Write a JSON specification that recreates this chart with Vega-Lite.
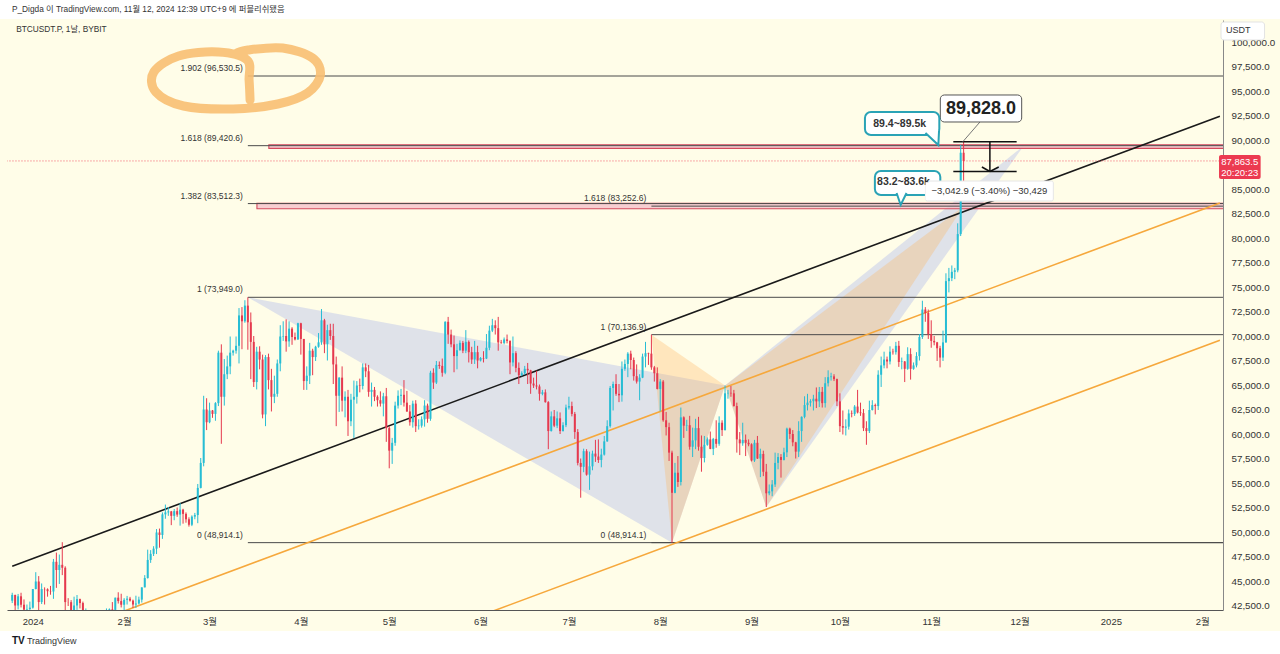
{
"$schema":"https://vega.github.io/schema/vega-lite/v6.json",
"width":1216,"height":590,
"autosize":{"type":"none"},
"padding":{"left":7,"top":20,"right":57,"bottom":44},
"background":"#fffde8",
"config":{"view":{"stroke":null},"font":"Liberation Sans, Noto Sans CJK KR, sans-serif",
 "axisY":{"ticks":false,"grid":false,"domainColor":"#888888","labelColor":"#333333","labelFontSize":9.8,"labelPadding":8,"title":null,"labelOverlap":false,"labelFlush":false}},
"data":{"values":[
{"d":"2023-12-25","o":42990,"h":43800,"l":42750,"c":43580},
{"d":"2023-12-26","o":43580,"h":43600,"l":41650,"c":42500},
{"d":"2023-12-27","o":42500,"h":43680,"l":42100,"c":43440},
{"d":"2023-12-28","o":43440,"h":43800,"l":42300,"c":42580},
{"d":"2023-12-29","o":42580,"h":43120,"l":41300,"c":42080},
{"d":"2023-12-30","o":42080,"h":42600,"l":41520,"c":42140},
{"d":"2023-12-31","o":42140,"h":42900,"l":41980,"c":42280},
{"d":"2024-01-01","o":42280,"h":44180,"l":42180,"c":44180},
{"d":"2024-01-02","o":44180,"h":45900,"l":44150,"c":44950},
{"d":"2024-01-03","o":44950,"h":45500,"l":40750,"c":42850},
{"d":"2024-01-04","o":42850,"h":44750,"l":42650,"c":44180},
{"d":"2024-01-05","o":44180,"h":44350,"l":42600,"c":44160},
{"d":"2024-01-06","o":44160,"h":44250,"l":43400,"c":43960},
{"d":"2024-01-07","o":43960,"h":44500,"l":43600,"c":43930},
{"d":"2024-01-08","o":43930,"h":47250,"l":43180,"c":46960},
{"d":"2024-01-09","o":46960,"h":47900,"l":44300,"c":46120},
{"d":"2024-01-10","o":46120,"h":47700,"l":44700,"c":46650},
{"d":"2024-01-11","o":46650,"h":48960,"l":45600,"c":46350},
{"d":"2024-01-12","o":46350,"h":46500,"l":41500,"c":42850},
{"d":"2024-01-13","o":42850,"h":43250,"l":42450,"c":42840},
{"d":"2024-01-14","o":42840,"h":43050,"l":41720,"c":41750},
{"d":"2024-01-15","o":41750,"h":43400,"l":41700,"c":42500},
{"d":"2024-01-16","o":42500,"h":43570,"l":42050,"c":43150},
{"d":"2024-01-17","o":43150,"h":43200,"l":42200,"c":42750},
{"d":"2024-01-18","o":42750,"h":42900,"l":40600,"c":41300},
{"d":"2024-01-19","o":41300,"h":42200,"l":40300,"c":41620},
{"d":"2024-01-20","o":41620,"h":41850,"l":41450,"c":41680},
{"d":"2024-01-21","o":41680,"h":41900,"l":41480,"c":41580},
{"d":"2024-01-22","o":41580,"h":41700,"l":39430,"c":39550},
{"d":"2024-01-23","o":39550,"h":40500,"l":38550,"c":39900},
{"d":"2024-01-24","o":39900,"h":40550,"l":39500,"c":40100},
{"d":"2024-01-25","o":40100,"h":40280,"l":39550,"c":39950},
{"d":"2024-01-26","o":39950,"h":42200,"l":39830,"c":41850},
{"d":"2024-01-27","o":41850,"h":42200,"l":41400,"c":42120},
{"d":"2024-01-28","o":42120,"h":42850,"l":41650,"c":42050},
{"d":"2024-01-29","o":42050,"h":43300,"l":41800,"c":43300},
{"d":"2024-01-30","o":43300,"h":43850,"l":42700,"c":42950},
{"d":"2024-01-31","o":42950,"h":43700,"l":42300,"c":42580},
{"d":"2024-02-01","o":42580,"h":43250,"l":41880,"c":43080},
{"d":"2024-02-02","o":43080,"h":43480,"l":42600,"c":43200},
{"d":"2024-02-03","o":43200,"h":43380,"l":42900,"c":43000},
{"d":"2024-02-04","o":43000,"h":43100,"l":42250,"c":42600},
{"d":"2024-02-05","o":42600,"h":43500,"l":42250,"c":42700},
{"d":"2024-02-06","o":42700,"h":43400,"l":42600,"c":43100},
{"d":"2024-02-07","o":43100,"h":44350,"l":42800,"c":44350},
{"d":"2024-02-08","o":44350,"h":45600,"l":44350,"c":45300},
{"d":"2024-02-09","o":45300,"h":48200,"l":45250,"c":47150},
{"d":"2024-02-10","o":47150,"h":48150,"l":46850,"c":47770},
{"d":"2024-02-11","o":47770,"h":48550,"l":47550,"c":48300},
{"d":"2024-02-12","o":48300,"h":50300,"l":47750,"c":49950},
{"d":"2024-02-13","o":49950,"h":50350,"l":48400,"c":49700},
{"d":"2024-02-14","o":49700,"h":52000,"l":49300,"c":51800},
{"d":"2024-02-15","o":51800,"h":52800,"l":51350,"c":52000},
{"d":"2024-02-16","o":52000,"h":52550,"l":51650,"c":52100},
{"d":"2024-02-17","o":52100,"h":52150,"l":50700,"c":51650},
{"d":"2024-02-18","o":51650,"h":52350,"l":51200,"c":52130},
{"d":"2024-02-19","o":52130,"h":52500,"l":51550,"c":51780},
{"d":"2024-02-20","o":51780,"h":52950,"l":50650,"c":52280},
{"d":"2024-02-21","o":52280,"h":52370,"l":50850,"c":51850},
{"d":"2024-02-22","o":51850,"h":52000,"l":50950,"c":51300},
{"d":"2024-02-23","o":51300,"h":51500,"l":50550,"c":50740},
{"d":"2024-02-24","o":50740,"h":51700,"l":50600,"c":51570},
{"d":"2024-02-25","o":51570,"h":51950,"l":51300,"c":51730},
{"d":"2024-02-26","o":51730,"h":54900,"l":50900,"c":54500},
{"d":"2024-02-27","o":54500,"h":57550,"l":54450,"c":57050},
{"d":"2024-02-28","o":57050,"h":63900,"l":56700,"c":62500},
{"d":"2024-02-29","o":62500,"h":63650,"l":60400,"c":61200},
{"d":"2024-03-01","o":61200,"h":63200,"l":61100,"c":62400},
{"d":"2024-03-02","o":62400,"h":62450,"l":61650,"c":62050},
{"d":"2024-03-03","o":62050,"h":63250,"l":61350,"c":63150},
{"d":"2024-03-04","o":63150,"h":68500,"l":62850,"c":68300},
{"d":"2024-03-05","o":68300,"h":69150,"l":59000,"c":63800},
{"d":"2024-03-06","o":63800,"h":67650,"l":62900,"c":66100},
{"d":"2024-03-07","o":66100,"h":68000,"l":65600,"c":66900},
{"d":"2024-03-08","o":66900,"h":69950,"l":66100,"c":68300},
{"d":"2024-03-09","o":68300,"h":68600,"l":68000,"c":68500},
{"d":"2024-03-10","o":68500,"h":69950,"l":68200,"c":69000},
{"d":"2024-03-11","o":69000,"h":72850,"l":67200,"c":72100},
{"d":"2024-03-12","o":72100,"h":72950,"l":68650,"c":71500},
{"d":"2024-03-13","o":71500,"h":73650,"l":71350,"c":73100},
{"d":"2024-03-14","o":73100,"h":73949,"l":68600,"c":71400},
{"d":"2024-03-15","o":71400,"h":72400,"l":65600,"c":69400},
{"d":"2024-03-16","o":69400,"h":70000,"l":64800,"c":65300},
{"d":"2024-03-17","o":65300,"h":68900,"l":64550,"c":68400},
{"d":"2024-03-18","o":68400,"h":68950,"l":66600,"c":67600},
{"d":"2024-03-19","o":67600,"h":68100,"l":61600,"c":62000},
{"d":"2024-03-20","o":62000,"h":68050,"l":60800,"c":67850},
{"d":"2024-03-21","o":67850,"h":68200,"l":64550,"c":65500},
{"d":"2024-03-22","o":65500,"h":66650,"l":62300,"c":63800},
{"d":"2024-03-23","o":63800,"h":65950,"l":63150,"c":64100},
{"d":"2024-03-24","o":64100,"h":67600,"l":63800,"c":67200},
{"d":"2024-03-25","o":67200,"h":71100,"l":66400,"c":69950},
{"d":"2024-03-26","o":69950,"h":71500,"l":69500,"c":70000},
{"d":"2024-03-27","o":70000,"h":71700,"l":68400,"c":69450},
{"d":"2024-03-28","o":69450,"h":71500,"l":68900,"c":70750},
{"d":"2024-03-29","o":70750,"h":70900,"l":69100,"c":69900},
{"d":"2024-03-30","o":69900,"h":70350,"l":69550,"c":69650},
{"d":"2024-03-31","o":69650,"h":71350,"l":69600,"c":71300},
{"d":"2024-04-01","o":71300,"h":71350,"l":68100,"c":69700},
{"d":"2024-04-02","o":69700,"h":69700,"l":64500,"c":65400},
{"d":"2024-04-03","o":65400,"h":66900,"l":64500,"c":65950},
{"d":"2024-04-04","o":65950,"h":69300,"l":65100,"c":68500},
{"d":"2024-04-05","o":68500,"h":68700,"l":66000,"c":67850},
{"d":"2024-04-06","o":67850,"h":69000,"l":67450,"c":68900},
{"d":"2024-04-07","o":68900,"h":70300,"l":68800,"c":69350},
{"d":"2024-04-08","o":69350,"h":72750,"l":69100,"c":71600},
{"d":"2024-04-09","o":71600,"h":71750,"l":68250,"c":69150},
{"d":"2024-04-10","o":69150,"h":71150,"l":67500,"c":70600},
{"d":"2024-04-11","o":70600,"h":71250,"l":69600,"c":70000},
{"d":"2024-04-12","o":70000,"h":71250,"l":65100,"c":67100},
{"d":"2024-04-13","o":67100,"h":67900,"l":60800,"c":63900},
{"d":"2024-04-14","o":63900,"h":65800,"l":62250,"c":65750},
{"d":"2024-04-15","o":65750,"h":66900,"l":62300,"c":63400},
{"d":"2024-04-16","o":63400,"h":64350,"l":61700,"c":63800},
{"d":"2024-04-17","o":63800,"h":64500,"l":59800,"c":61300},
{"d":"2024-04-18","o":61300,"h":64100,"l":60800,"c":63500},
{"d":"2024-04-19","o":63500,"h":65450,"l":59600,"c":63800},
{"d":"2024-04-20","o":63800,"h":65400,"l":63100,"c":64950},
{"d":"2024-04-21","o":64950,"h":65650,"l":64250,"c":64900},
{"d":"2024-04-22","o":64900,"h":67200,"l":64550,"c":66800},
{"d":"2024-04-23","o":66800,"h":67200,"l":65800,"c":66400},
{"d":"2024-04-24","o":66400,"h":67050,"l":63800,"c":64300},
{"d":"2024-04-25","o":64300,"h":65250,"l":62800,"c":64500},
{"d":"2024-04-26","o":64500,"h":64800,"l":63350,"c":63800},
{"d":"2024-04-27","o":63800,"h":63950,"l":62800,"c":63450},
{"d":"2024-04-28","o":63450,"h":64350,"l":62800,"c":63100},
{"d":"2024-04-29","o":63100,"h":64200,"l":61800,"c":63850},
{"d":"2024-04-30","o":63850,"h":64700,"l":59200,"c":60600},
{"d":"2024-05-01","o":60600,"h":60800,"l":56500,"c":58300},
{"d":"2024-05-02","o":58300,"h":59600,"l":56950,"c":59100},
{"d":"2024-05-03","o":59100,"h":63300,"l":58800,"c":62900},
{"d":"2024-05-04","o":62900,"h":64450,"l":62600,"c":63900},
{"d":"2024-05-05","o":63900,"h":64600,"l":62950,"c":64000},
{"d":"2024-05-06","o":64000,"h":65500,"l":62800,"c":63200},
{"d":"2024-05-07","o":63200,"h":64400,"l":62250,"c":62300},
{"d":"2024-05-08","o":62300,"h":62950,"l":60850,"c":61200},
{"d":"2024-05-09","o":61200,"h":63400,"l":60650,"c":63100},
{"d":"2024-05-10","o":63100,"h":63450,"l":60200,"c":60800},
{"d":"2024-05-11","o":60800,"h":61500,"l":60450,"c":60850},
{"d":"2024-05-12","o":60850,"h":61800,"l":60650,"c":61500},
{"d":"2024-05-13","o":61500,"h":63450,"l":60750,"c":62900},
{"d":"2024-05-14","o":62900,"h":63100,"l":61150,"c":61550},
{"d":"2024-05-15","o":61550,"h":66450,"l":61350,"c":66250},
{"d":"2024-05-16","o":66250,"h":66700,"l":64600,"c":65250},
{"d":"2024-05-17","o":65250,"h":67450,"l":65100,"c":67050},
{"d":"2024-05-18","o":67050,"h":67400,"l":66650,"c":66950},
{"d":"2024-05-19","o":66950,"h":67700,"l":65850,"c":66250},
{"d":"2024-05-20","o":66250,"h":71500,"l":66100,"c":71450},
{"d":"2024-05-21","o":71450,"h":71950,"l":69200,"c":70150},
{"d":"2024-05-22","o":70150,"h":70650,"l":68850,"c":69150},
{"d":"2024-05-23","o":69150,"h":70050,"l":66300,"c":67950},
{"d":"2024-05-24","o":67950,"h":69200,"l":66600,"c":68550},
{"d":"2024-05-25","o":68550,"h":69550,"l":68500,"c":69300},
{"d":"2024-05-26","o":69300,"h":69500,"l":68250,"c":68500},
{"d":"2024-05-27","o":68500,"h":70600,"l":68250,"c":69400},
{"d":"2024-05-28","o":69400,"h":69550,"l":67300,"c":68350},
{"d":"2024-05-29","o":68350,"h":68900,"l":67150,"c":67600},
{"d":"2024-05-30","o":67600,"h":69500,"l":67150,"c":68350},
{"d":"2024-05-31","o":68350,"h":69000,"l":66700,"c":67500},
{"d":"2024-06-01","o":67500,"h":67850,"l":67400,"c":67750},
{"d":"2024-06-02","o":67750,"h":68450,"l":67300,"c":67700},
{"d":"2024-06-03","o":67700,"h":70200,"l":67650,"c":68800},
{"d":"2024-06-04","o":68800,"h":71050,"l":68550,"c":70550},
{"d":"2024-06-05","o":70550,"h":71750,"l":70400,"c":71100},
{"d":"2024-06-06","o":71100,"h":71600,"l":70150,"c":70800},
{"d":"2024-06-07","o":70800,"h":71950,"l":68500,"c":69350},
{"d":"2024-06-08","o":69350,"h":69600,"l":69200,"c":69300},
{"d":"2024-06-09","o":69300,"h":69850,"l":69150,"c":69650},
{"d":"2024-06-10","o":69650,"h":70150,"l":69250,"c":69500},
{"d":"2024-06-11","o":69500,"h":69550,"l":66100,"c":67300},
{"d":"2024-06-12","o":67300,"h":69950,"l":66900,"c":68250},
{"d":"2024-06-13","o":68250,"h":68450,"l":66300,"c":66750},
{"d":"2024-06-14","o":66750,"h":67300,"l":65100,"c":66000},
{"d":"2024-06-15","o":66000,"h":66400,"l":65900,"c":66200},
{"d":"2024-06-16","o":66200,"h":66950,"l":66050,"c":66650},
{"d":"2024-06-17","o":66650,"h":67250,"l":65100,"c":66500},
{"d":"2024-06-18","o":66500,"h":66550,"l":64100,"c":65150},
{"d":"2024-06-19","o":65150,"h":65750,"l":64700,"c":64950},
{"d":"2024-06-20","o":64950,"h":66450,"l":64550,"c":64850},
{"d":"2024-06-21","o":64850,"h":65050,"l":63400,"c":64100},
{"d":"2024-06-22","o":64100,"h":64500,"l":63950,"c":64250},
{"d":"2024-06-23","o":64250,"h":64550,"l":63200,"c":63250},
{"d":"2024-06-24","o":63250,"h":63350,"l":58450,"c":60300},
{"d":"2024-06-25","o":60300,"h":62300,"l":60250,"c":61800},
{"d":"2024-06-26","o":61800,"h":62450,"l":60700,"c":60850},
{"d":"2024-06-27","o":60850,"h":62300,"l":60600,"c":61600},
{"d":"2024-06-28","o":61600,"h":62200,"l":60000,"c":60300},
{"d":"2024-06-29","o":60300,"h":61200,"l":60250,"c":60900},
{"d":"2024-06-30","o":60900,"h":63000,"l":60700,"c":62700},
{"d":"2024-07-01","o":62700,"h":63800,"l":62500,"c":62850},
{"d":"2024-07-02","o":62850,"h":63300,"l":61800,"c":62050},
{"d":"2024-07-03","o":62050,"h":62250,"l":59500,"c":60200},
{"d":"2024-07-04","o":60200,"h":60500,"l":56800,"c":57050},
{"d":"2024-07-05","o":57050,"h":57500,"l":53500,"c":56650},
{"d":"2024-07-06","o":56650,"h":58500,"l":56100,"c":58250},
{"d":"2024-07-07","o":58250,"h":58450,"l":55750,"c":55850},
{"d":"2024-07-08","o":55850,"h":58200,"l":54300,"c":56700},
{"d":"2024-07-09","o":56700,"h":58300,"l":56300,"c":58000},
{"d":"2024-07-10","o":58000,"h":59400,"l":57150,"c":57700},
{"d":"2024-07-11","o":57700,"h":59450,"l":57050,"c":57350},
{"d":"2024-07-12","o":57350,"h":58500,"l":56600,"c":57900},
{"d":"2024-07-13","o":57900,"h":59800,"l":57800,"c":59250},
{"d":"2024-07-14","o":59250,"h":61400,"l":59200,"c":60800},
{"d":"2024-07-15","o":60800,"h":64900,"l":60650,"c":64700},
{"d":"2024-07-16","o":64700,"h":65350,"l":62400,"c":65100},
{"d":"2024-07-17","o":65100,"h":66100,"l":63900,"c":64100},
{"d":"2024-07-18","o":64100,"h":65100,"l":63250,"c":63950},
{"d":"2024-07-19","o":63950,"h":67400,"l":63300,"c":66650},
{"d":"2024-07-20","o":66650,"h":67600,"l":66450,"c":67150},
{"d":"2024-07-21","o":67150,"h":68350,"l":65800,"c":68200},
{"d":"2024-07-22","o":68200,"h":68500,"l":66600,"c":67550},
{"d":"2024-07-23","o":67550,"h":67800,"l":65450,"c":65900},
{"d":"2024-07-24","o":65900,"h":67100,"l":65150,"c":65350},
{"d":"2024-07-25","o":65350,"h":66100,"l":63450,"c":65750},
{"d":"2024-07-26","o":65750,"h":68200,"l":65700,"c":67900},
{"d":"2024-07-27","o":67900,"h":69400,"l":66800,"c":68250},
{"d":"2024-07-28","o":68250,"h":68300,"l":67050,"c":68200},
{"d":"2024-07-29","o":68200,"h":70137,"l":66550,"c":66800},
{"d":"2024-07-30","o":66800,"h":66950,"l":65350,"c":66200},
{"d":"2024-07-31","o":66200,"h":66800,"l":64550,"c":64600},
{"d":"2024-08-01","o":64600,"h":65600,"l":62300,"c":65350},
{"d":"2024-08-02","o":65350,"h":65500,"l":61250,"c":61400},
{"d":"2024-08-03","o":61400,"h":62250,"l":59850,"c":60700},
{"d":"2024-08-04","o":60700,"h":61150,"l":57250,"c":58100},
{"d":"2024-08-05","o":58100,"h":58300,"l":48914,"c":54000},
{"d":"2024-08-06","o":54000,"h":57050,"l":53950,"c":56050},
{"d":"2024-08-07","o":56050,"h":57750,"l":54600,"c":55100},
{"d":"2024-08-08","o":55100,"h":62700,"l":54750,"c":61700},
{"d":"2024-08-09","o":61700,"h":61800,"l":59600,"c":60850},
{"d":"2024-08-10","o":60850,"h":61450,"l":60300,"c":60900},
{"d":"2024-08-11","o":60900,"h":61850,"l":58400,"c":58700},
{"d":"2024-08-12","o":58700,"h":60650,"l":57650,"c":59350},
{"d":"2024-08-13","o":59350,"h":61550,"l":58450,"c":60600},
{"d":"2024-08-14","o":60600,"h":61750,"l":58300,"c":58700},
{"d":"2024-08-15","o":58700,"h":59850,"l":56150,"c":57550},
{"d":"2024-08-16","o":57550,"h":59800,"l":57100,"c":58900},
{"d":"2024-08-17","o":58900,"h":59650,"l":58800,"c":59450},
{"d":"2024-08-18","o":59450,"h":60250,"l":58450,"c":58480},
{"d":"2024-08-19","o":58480,"h":59600,"l":57850,"c":59500},
{"d":"2024-08-20","o":59500,"h":61400,"l":58600,"c":59000},
{"d":"2024-08-21","o":59000,"h":61800,"l":58800,"c":61150},
{"d":"2024-08-22","o":61150,"h":61400,"l":59800,"c":60400},
{"d":"2024-08-23","o":60400,"h":64950,"l":60350,"c":64150},
{"d":"2024-08-24","o":64150,"h":64500,"l":63600,"c":64200},
{"d":"2024-08-25","o":64200,"h":64900,"l":63800,"c":64150},
{"d":"2024-08-26","o":64150,"h":64500,"l":62800,"c":62850},
{"d":"2024-08-27","o":62850,"h":63200,"l":58100,"c":59450},
{"d":"2024-08-28","o":59450,"h":60200,"l":57850,"c":59050},
{"d":"2024-08-29","o":59050,"h":61150,"l":58800,"c":59400},
{"d":"2024-08-30","o":59400,"h":59950,"l":57750,"c":59100},
{"d":"2024-08-31","o":59100,"h":59450,"l":58750,"c":58950},
{"d":"2024-09-01","o":58950,"h":59050,"l":57200,"c":57300},
{"d":"2024-09-02","o":57300,"h":59400,"l":57150,"c":59100},
{"d":"2024-09-03","o":59100,"h":59800,"l":57450,"c":57500},
{"d":"2024-09-04","o":57500,"h":58500,"l":55600,"c":57970},
{"d":"2024-09-05","o":57970,"h":58300,"l":55700,"c":56150},
{"d":"2024-09-06","o":56150,"h":56950,"l":52550,"c":53950},
{"d":"2024-09-07","o":53950,"h":54850,"l":53750,"c":54150},
{"d":"2024-09-08","o":54150,"h":55300,"l":53650,"c":54850},
{"d":"2024-09-09","o":54850,"h":58100,"l":54600,"c":57050},
{"d":"2024-09-10","o":57050,"h":58050,"l":56400,"c":57650},
{"d":"2024-09-11","o":57650,"h":57950,"l":55550,"c":57350},
{"d":"2024-09-12","o":57350,"h":58600,"l":57300,"c":58130},
{"d":"2024-09-13","o":58130,"h":60650,"l":57650,"c":60550},
{"d":"2024-09-14","o":60550,"h":60650,"l":59500,"c":60000},
{"d":"2024-09-15","o":60000,"h":60400,"l":58750,"c":59150},
{"d":"2024-09-16","o":59150,"h":59200,"l":57500,"c":58200},
{"d":"2024-09-17","o":58200,"h":61300,"l":57650,"c":60300},
{"d":"2024-09-18","o":60300,"h":61800,"l":59200,"c":61750},
{"d":"2024-09-19","o":61750,"h":63850,"l":61600,"c":62950},
{"d":"2024-09-20","o":62950,"h":64100,"l":62400,"c":63200},
{"d":"2024-09-21","o":63200,"h":63550,"l":62800,"c":63350},
{"d":"2024-09-22","o":63350,"h":64000,"l":62400,"c":63600},
{"d":"2024-09-23","o":63600,"h":64750,"l":62650,"c":63330},
{"d":"2024-09-24","o":63330,"h":64800,"l":62750,"c":64300},
{"d":"2024-09-25","o":64300,"h":64800,"l":62700,"c":63150},
{"d":"2024-09-26","o":63150,"h":65800,"l":62700,"c":65180},
{"d":"2024-09-27","o":65180,"h":66500,"l":64850,"c":65800},
{"d":"2024-09-28","o":65800,"h":66250,"l":65450,"c":65880},
{"d":"2024-09-29","o":65880,"h":66100,"l":65400,"c":65600},
{"d":"2024-09-30","o":65600,"h":65650,"l":62850,"c":63330},
{"d":"2024-10-01","o":63330,"h":64150,"l":60200,"c":60800},
{"d":"2024-10-02","o":60800,"h":62400,"l":59950,"c":60650},
{"d":"2024-10-03","o":60650,"h":61500,"l":59850,"c":60750},
{"d":"2024-10-04","o":60750,"h":62500,"l":60450,"c":62100},
{"d":"2024-10-05","o":62100,"h":62400,"l":61700,"c":62050},
{"d":"2024-10-06","o":62050,"h":62950,"l":61850,"c":62800},
{"d":"2024-10-07","o":62800,"h":64500,"l":62100,"c":62200},
{"d":"2024-10-08","o":62200,"h":63200,"l":61850,"c":62130},
{"d":"2024-10-09","o":62130,"h":62550,"l":60300,"c":60600},
{"d":"2024-10-10","o":60600,"h":61300,"l":58900,"c":60300},
{"d":"2024-10-11","o":60300,"h":63400,"l":60100,"c":62450},
{"d":"2024-10-12","o":62450,"h":63450,"l":62400,"c":62950},
{"d":"2024-10-13","o":62950,"h":63100,"l":62000,"c":62850},
{"d":"2024-10-14","o":62850,"h":66500,"l":62450,"c":66050},
{"d":"2024-10-15","o":66050,"h":67900,"l":64800,"c":67000},
{"d":"2024-10-16","o":67000,"h":68400,"l":66700,"c":67600},
{"d":"2024-10-17","o":67600,"h":67900,"l":66700,"c":67400},
{"d":"2024-10-18","o":67400,"h":68950,"l":67100,"c":68400},
{"d":"2024-10-19","o":68400,"h":68700,"l":68100,"c":68350},
{"d":"2024-10-20","o":68350,"h":69400,"l":68100,"c":69000},
{"d":"2024-10-21","o":69000,"h":69500,"l":66850,"c":67350},
{"d":"2024-10-22","o":67350,"h":67800,"l":66600,"c":67400},
{"d":"2024-10-23","o":67400,"h":67450,"l":65300,"c":66650},
{"d":"2024-10-24","o":66650,"h":68850,"l":66550,"c":68150},
{"d":"2024-10-25","o":68150,"h":68750,"l":65550,"c":66650},
{"d":"2024-10-26","o":66650,"h":67300,"l":66550,"c":67000},
{"d":"2024-10-27","o":67000,"h":68350,"l":66800,"c":67950},
{"d":"2024-10-28","o":67950,"h":70200,"l":67500,"c":69900},
{"d":"2024-10-29","o":69900,"h":73600,"l":69700,"c":72700},
{"d":"2024-10-30","o":72700,"h":72950,"l":71450,"c":72350},
{"d":"2024-10-31","o":72350,"h":72700,"l":69700,"c":70200},
{"d":"2024-11-01","o":70200,"h":71600,"l":68800,"c":69500},
{"d":"2024-11-02","o":69500,"h":70000,"l":69050,"c":69350},
{"d":"2024-11-03","o":69350,"h":69400,"l":67450,"c":68750},
{"d":"2024-11-04","o":68750,"h":69000,"l":66800,"c":67800},
{"d":"2024-11-05","o":67800,"h":70550,"l":67450,"c":69350},
{"d":"2024-11-06","o":69350,"h":76400,"l":69300,"c":75600},
{"d":"2024-11-07","o":75600,"h":76950,"l":74450,"c":75900},
{"d":"2024-11-08","o":75900,"h":77200,"l":75600,"c":76550},
{"d":"2024-11-09","o":76550,"h":76950,"l":75800,"c":76700},
{"d":"2024-11-10","o":76700,"h":81500,"l":76500,"c":80400},
{"d":"2024-11-11","o":80400,"h":89500,"l":80200,"c":88700},
{"d":"2024-11-12","o":88700,"h":89828,"l":85100,"c":87863.5}
]},
"encoding":{
"x":{"field":"d","type":"temporal",
 "scale":{"type":"utc","domain":[{"year":2023,"month":12,"date":24,"hours":22,"minutes":19,"utc":true},{"year":2025,"month":2,"date":6,"hours":8,"minutes":38,"utc":true}]},
 "axis":{"values":[{"year":2024,"month":1,"date":1,"utc":true},{"year":2024,"month":2,"date":1,"utc":true},{"year":2024,"month":3,"date":1,"utc":true},{"year":2024,"month":4,"date":1,"utc":true},{"year":2024,"month":5,"date":1,"utc":true},{"year":2024,"month":6,"date":1,"utc":true},{"year":2024,"month":7,"date":1,"utc":true},{"year":2024,"month":8,"date":1,"utc":true},{"year":2024,"month":9,"date":1,"utc":true},{"year":2024,"month":10,"date":1,"utc":true},{"year":2024,"month":11,"date":1,"utc":true},{"year":2024,"month":12,"date":1,"utc":true},{"year":2025,"month":1,"date":1,"utc":true},{"year":2025,"month":2,"date":1,"utc":true}],
  "labelExpr":"utcmonth(datum.value) == 0 ? '' + utcyear(datum.value) : (utcmonth(datum.value) + 1) + '월'",
  "ticks":false,"grid":false,"domainColor":"#555555","labelColor":"#333333","labelFontSize":9.5,"labelPadding":6,"title":null,"labelOverlap":false,"labelFlush":false,"labelAlign":"center"}},
"y":{"field":"p","type":"quantitative","title":null,
 "scale":{"domain":[42041,102245],"nice":false,"zero":false},
 "axis":{"orient":"right","values":[42500,45000,47500,50000,52500,55000,57500,60000,62500,65000,67500,70000,72500,75000,77500,80000,82500,85000,90000,92500,95000,97500,100000],"format":",.1f","title":null}}
},
"layer":[
{"data":{"values":[{"d":"2023-12-15T00:00Z","d2":"2025-03-10T00:00Z","p":102350,"p2":104600},{"d":"2023-12-15T00:00Z","d2":"2025-03-10T00:00Z","p":36500,"p2":39900}],"format":{"parse":{"d":"date","d2":"date"}}},
 "mark":{"type":"rect","fill":"#ffffff","stroke":null},
 "encoding":{"x2":{"field":"d2"},"y2":{"field":"p2"}}},
{"data":{"values":[
 {"g":"b1","i":0,"d":"2024-03-14T00:00Z","p":73949},{"g":"b1","i":1,"d":"2024-08-05T00:00Z","p":48914.1},{"g":"b1","i":2,"d":"2024-08-23T00:00Z","p":64950},
 {"g":"b2","i":0,"d":"2024-08-23T00:00Z","p":64950},{"g":"b2","i":1,"d":"2024-09-06T00:00Z","p":52550},{"g":"b2","i":2,"d":"2024-12-02T10:00Z","p":89420.6}]},
 "mark":{"type":"line","fill":"#96a5eb","fillOpacity":0.3,"stroke":"transparent","strokeWidth":0,"clip":true},
 "encoding":{"detail":{"field":"g"},"order":{"field":"i","type":"quantitative"}}},
{"data":{"values":[
 {"g":"o1","i":0,"d":"2024-07-29T00:00Z","p":70136.9},{"g":"o1","i":1,"d":"2024-08-05T00:00Z","p":48914.1},{"g":"o1","i":2,"d":"2024-08-23T00:00Z","p":64950},
 {"g":"o2","i":0,"d":"2024-08-23T00:00Z","p":64950},{"g":"o2","i":1,"d":"2024-09-06T00:00Z","p":52550},{"g":"o2","i":2,"d":"2024-11-12T00:00Z","p":83252.6}]},
 "mark":{"type":"line","fill":"#ffb45a","fillOpacity":0.3,"stroke":"transparent","strokeWidth":0,"clip":true},
 "encoding":{"detail":{"field":"g"},"order":{"field":"i","type":"quantitative"}}},
{"data":{"values":[{"d":"2024-03-21T03:00Z","d2":"2025-02-10T00:00Z","p":89150,"p2":89520},{"d":"2024-03-17T02:00Z","d2":"2025-02-10T00:00Z","p":82990,"p2":83541}],"format":{"parse":{"d":"date","d2":"date"}}},
 "mark":{"type":"rect","fill":"#f5c2ca","fillOpacity":0.8,"stroke":"#d44a5e","strokeWidth":1.1,"clip":true},
 "encoding":{"x2":{"field":"d2"},"y2":{"field":"p2"}}},
{"data":{"values":[
 {"d":"2024-03-14T00:00Z","d2":"2025-02-10T00:00Z","p":96530.5,"label":"1.902 (96,530.5)"},
 {"d":"2024-03-14T00:00Z","d2":"2025-02-10T00:00Z","p":89420.6,"label":"1.618 (89,420.6)"},
 {"d":"2024-03-14T00:00Z","d2":"2025-02-10T00:00Z","p":83512.3,"label":"1.382 (83,512.3)"},
 {"d":"2024-03-14T00:00Z","d2":"2025-02-10T00:00Z","p":73949.0,"label":"1 (73,949.0)"},
 {"d":"2024-03-14T00:00Z","d2":"2025-02-10T00:00Z","p":48914.1,"label":"0 (48,914.1)"},
 {"d":"2024-07-29T00:00Z","d2":"2025-02-10T00:00Z","p":83252.6,"label":"1.618 (83,252.6)"},
 {"d":"2024-07-29T00:00Z","d2":"2025-02-10T00:00Z","p":70136.9,"label":"1 (70,136.9)"},
 {"d":"2024-07-29T00:00Z","d2":"2025-02-10T00:00Z","p":48914.1,"label":"0 (48,914.1)"}],"format":{"parse":{"d":"date","d2":"date"}}},
 "layer":[
  {"mark":{"type":"rule","color":"#4a4a4a","strokeWidth":1,"clip":true},"encoding":{"x2":{"field":"d2"}}},
  {"mark":{"type":"text","align":"right","baseline":"middle","dx":-5,"dy":-8,"fontSize":8.5,"color":"#333333"},"encoding":{"text":{"field":"label"}}}
 ]},
{"data":{"values":[
 {"g":"k","d":"2023-12-25T00:00Z","p":46508},{"g":"k","d":"2025-02-07T00:00Z","p":92428},
 {"g":"o1","d":"2024-01-21T00:00Z","p":40704},{"g":"o1","d":"2025-02-07T00:00Z","p":83562},
 {"g":"o2","d":"2024-05-30T00:00Z","p":41234},{"g":"o2","d":"2025-02-07T00:00Z","p":69570}]},
 "mark":{"type":"line","strokeWidth":1.6,"clip":true},
 "encoding":{"detail":{"field":"g"},"color":{"field":"g","type":"nominal","scale":{"domain":["k","o1","o2"],"range":["#1a1a1a","#f6a83c","#f6a83c"]},"legend":null}}},
{"data":{"values":[{"d":"2023-12-20T00:00Z","d2":"2025-02-10T00:00Z","p":87863.5}],"format":{"parse":{"d":"date","d2":"date"}}},
 "mark":{"type":"rule","color":"#f05a6a","strokeWidth":1,"strokeDash":[1,2],"clip":true},
 "encoding":{"x2":{"field":"d2"}}},
{"mark":{"type":"rule","strokeWidth":1,"clip":true},
 "encoding":{"y":{"field":"l","type":"quantitative","title":null,"scale":{"zero":false},
   "axis":{"orient":"right","values":[42500,45000,47500,50000,52500,55000,57500,60000,62500,65000,67500,70000,72500,75000,77500,80000,82500,85000,90000,92500,95000,97500,100000],"format":",.1f","title":null}},
  "y2":{"field":"h"},
  "color":{"condition":{"test":"datum.c >= datum.o","value":"#27bdd4"},"value":"#e5394e"}}},
{"mark":{"type":"bar","width":2,"clip":true},
 "encoding":{"y":{"field":"o","type":"quantitative","title":null,"scale":{"zero":false},
   "axis":{"orient":"right","values":[42500,45000,47500,50000,52500,55000,57500,60000,62500,65000,67500,70000,72500,75000,77500,80000,82500,85000,90000,92500,95000,97500,100000],"format":",.1f","title":null}},
  "y2":{"field":"c"},
  "color":{"condition":{"test":"datum.c >= datum.o","value":"#27bdd4"},"value":"#e5394e"}}},
{"data":{"values":[
 {"d":"2024-11-08T12:00Z","d2":"2024-11-30T00:00Z","p":89828,"p2":89828},
 {"d":"2024-11-08T12:00Z","d2":"2024-11-30T00:00Z","p":86785,"p2":86785},
 {"d":"2024-11-20T22:00Z","d2":"2024-11-20T22:00Z","p":89828,"p2":86785},
 {"d":"2024-11-18T05:00Z","d2":"2024-11-20T22:00Z","p":87245,"p2":86785},
 {"d":"2024-11-23T22:00Z","d2":"2024-11-20T22:00Z","p":87245,"p2":86785}],"format":{"parse":{"d":"date","d2":"date"}}},
 "mark":{"type":"rule","color":"#111111","strokeWidth":1.5},
 "encoding":{"x2":{"field":"d2"},"y2":{"field":"p2"}}},
{"data":{"values":[{"d":"2024-11-17T13:00Z","d2":"2024-11-11T18:00Z","p":91837,"p2":89828}],"format":{"parse":{"d":"date","d2":"date"}}},
 "mark":{"type":"rule","color":"#777777","strokeWidth":1},
 "encoding":{"x2":{"field":"d2"},"y2":{"field":"p2"}}},
{"data":{"values":[{"d":"2024-11-04T02:00Z","d2":"2024-12-01T17:00Z","p":91837,"p2":94592}],"format":{"parse":{"d":"date","d2":"date"}}},
 "mark":{"type":"rect","fill":"#ffffff","stroke":"#555555","strokeWidth":1,"cornerRadius":4},
 "encoding":{"x2":{"field":"d2"},"y2":{"field":"p2"}}},
{"data":{"values":[{"d":"2024-10-09T12:00Z","d2":"2024-11-03T18:00Z","p":90510,"p2":92857},{"d":"2024-10-12T21:00Z","d2":"2024-11-04T02:00Z","p":84388,"p2":86837}],"format":{"parse":{"d":"date","d2":"date"}}},
 "mark":{"type":"rect","fill":"#ffffff","stroke":"#2aa3b6","strokeWidth":2,"cornerRadius":6},
 "encoding":{"x2":{"field":"d2"},"y2":{"field":"p2"}}},
{"data":{"values":[
 {"g":"t1","i":0,"d":"2024-10-30T01:00Z","p":90714},{"g":"t1","i":1,"d":"2024-11-03T10:00Z","p":89490},{"g":"t1","i":2,"d":"2024-11-03T16:00Z","p":91000},
 {"g":"t2","i":0,"d":"2024-10-20T06:00Z","p":84592},{"g":"t2","i":1,"d":"2024-10-21T15:00Z","p":83367},{"g":"t2","i":2,"d":"2024-10-23T15:00Z","p":84592}]},
 "mark":{"type":"line","fill":"#ffffff","stroke":"#2aa3b6","strokeWidth":2},
 "encoding":{"detail":{"field":"g"},"order":{"field":"i","type":"quantitative"}}},
{"data":{"values":[{"d":"2024-10-30T01:00Z","d2":"2024-12-12T11:00Z","p":83776,"p2":85816}],"format":{"parse":{"d":"date","d2":"date"}}},
 "mark":{"type":"rect","fill":"#ffffff","stroke":"#e6e6e6","strokeWidth":1,"cornerRadius":2},
 "encoding":{"x2":{"field":"d2"},"y2":{"field":"p2"}}},
{"data":{"values":[{"d":"2024-11-17T22:00Z","p":93214,"label":"89,828.0"}]},
 "mark":{"type":"text","align":"center","baseline":"middle","fontSize":18,"fontWeight":"bold","color":"#222222"},
 "encoding":{"text":{"field":"label"}}},
{"data":{"values":[{"d":"2024-10-21T07:00Z","p":91633,"label":"89.4~89.5k"},{"d":"2024-10-22T14:00Z","p":85714,"label":"83.2~83.6k"}]},
 "mark":{"type":"text","align":"center","baseline":"middle","fontSize":10.5,"fontWeight":"bold","color":"#333333"},
 "encoding":{"text":{"field":"label"}}},
{"data":{"values":[{"d":"2024-10-30T01:00Z","d2":"2024-11-04T18:00Z","p":83900,"p2":85700}],"format":{"parse":{"d":"date","d2":"date"}}},
 "mark":{"type":"rect","fill":"#ffffff"},
 "encoding":{"x2":{"field":"d2"},"y2":{"field":"p2"}}},
{"data":{"values":[{"d":"2024-11-20T18:00Z","p":84796,"label":"−3,042.9 (−3.40%) −30,429"}]},
 "mark":{"type":"text","align":"center","baseline":"middle","fontSize":9.5,"color":"#333333"},
 "encoding":{"text":{"field":"label"}}},
{"data":{"values":[
 {"i":0,"d":"2024-03-14T18:00Z","p":94082},{"i":1,"d":"2024-03-14T10:00Z","p":96122},{"i":2,"d":"2024-03-13T18:00Z","p":98163},
 {"i":3,"d":"2024-03-03T23:00Z","p":98980},{"i":4,"d":"2024-02-19T12:00Z","p":98571},{"i":5,"d":"2024-02-11T02:00Z","p":96939},
 {"i":6,"d":"2024-02-11T18:00Z","p":94898},{"i":7,"d":"2024-02-21T04:00Z","p":93469},{"i":8,"d":"2024-03-09T00:00Z","p":93163},
 {"i":9,"d":"2024-03-24T04:00Z","p":93673},{"i":10,"d":"2024-04-03T06:00Z","p":94796},{"i":11,"d":"2024-04-07T15:00Z","p":96633},
 {"i":12,"d":"2024-04-04T23:00Z","p":98367},{"i":13,"d":"2024-03-25T20:00Z","p":99388},{"i":14,"d":"2024-03-14T01:00Z","p":99184},
 {"i":15,"d":"2024-03-09T17:00Z","p":98776}]},
 "mark":{"type":"line","color":"#f8bf72","opacity":0.9,"strokeWidth":9,"strokeCap":"round","interpolate":"cardinal"},
 "encoding":{"order":{"field":"i","type":"quantitative"}}},
{"data":{"values":[{"d":"2025-02-07T09:00Z","d2":"2025-02-22T04:00Z","p":100204,"p2":102041}],"format":{"parse":{"d":"date","d2":"date"}}},
 "mark":{"type":"rect","fill":"#ffffff","stroke":"#e3e3e3","strokeWidth":1,"cornerRadius":3},
 "encoding":{"x2":{"field":"d2"},"y2":{"field":"p2"}}},
{"data":{"values":[{"d":"2025-02-06T17:00Z","d2":"2025-02-20T20:00Z","p":86020,"p2":88469}],"format":{"parse":{"d":"date","d2":"date"}}},
 "mark":{"type":"rect","fill":"#ec3a50","cornerRadius":2},
 "encoding":{"x2":{"field":"d2"},"y2":{"field":"p2"}}},
{"data":{"values":[{"d":"2025-02-13T18:00Z","p":87755,"label":"87,863.5"},{"d":"2025-02-13T18:00Z","p":86633,"label":"20:20:23"}]},
 "mark":{"type":"text","align":"center","baseline":"middle","fontSize":9.5,"color":"#ffffff"},
 "encoding":{"text":{"field":"label"}}},
{"data":{"values":[{"d":"2025-02-09T01:00Z","p":101224,"label":"USDT"},{"d":"2023-12-30T00:00Z","p":38878,"label":"TradingView"}]},
 "mark":{"type":"text","align":"left","baseline":"middle","fontSize":9,"color":"#333333"},
 "encoding":{"text":{"field":"label"}}},
{"data":{"values":[
 {"d":"2023-12-24T22:00Z","p":103265,"label":"P_Digda 이 TradingView.com, 11월 12, 2024 12:39 UTC+9 에 퍼블리쉬됐음"},
 {"d":"2023-12-26T08:00Z","p":101224,"label":"BTCUSDT.P, 1날, BYBIT"}]},
 "mark":{"type":"text","align":"left","baseline":"middle","fontSize":8.3,"color":"#333333"},
 "encoding":{"text":{"field":"label"}}},
{"data":{"values":[{"d":"2023-12-24T22:00Z","p":38878,"label":"TV"}]},
 "mark":{"type":"text","align":"left","baseline":"middle","fontSize":10,"fontWeight":"bold","color":"#131722"},
 "encoding":{"text":{"field":"label"}}}
]
}
